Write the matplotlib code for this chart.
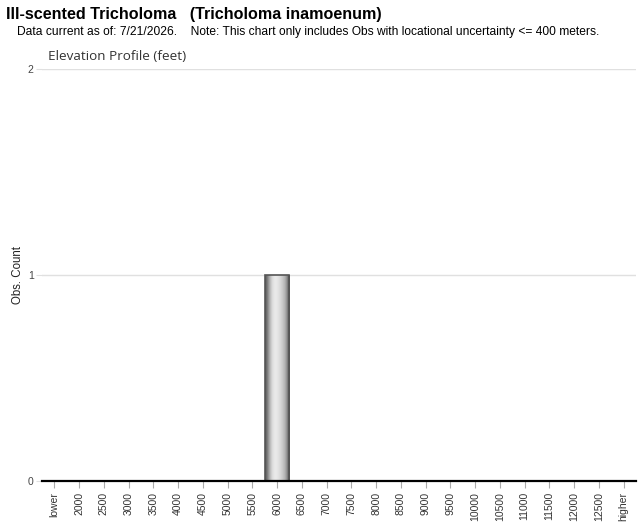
import matplotlib
matplotlib.use("Agg")
import matplotlib.pyplot as plt
import numpy as np

categories = ["lower", "2000", "2500", "3000", "3500", "4000", "4500", "5000", "5500",
              "6000", "6500", "7000", "7500", "8000", "8500", "9000", "9500", "10000",
              "10500", "11000", "11500", "12000", "12500", "higher"]
counts = [0, 0, 0, 0, 0, 0, 0, 0, 0, 1, 0, 0, 0, 0, 0, 0, 0, 0, 0, 0, 0, 0, 0, 0]
yticks = [0, 1, 2]

fig = plt.figure(figsize=(6.4, 5.23), dpi=100)
ax = fig.add_axes([42/640, 1-481/523, 594/640, (481-69)/523])

x = np.arange(len(categories))
bars = ax.bar(x, counts, width=0.98, color="none", edgecolor="#555555", linewidth=1.2, zorder=3)

# cylinder-like gradient fill
grad = np.array([0.35, 0.45, 0.6, 0.75, 0.85, 0.9, 0.92, 0.9, 0.87, 0.83, 0.78, 0.72, 0.62, 0.45, 0.3])
grad_img = np.interp(np.linspace(0, len(grad)-1, 60), np.arange(len(grad)), grad)[None, :]
for b in bars:
    h = b.get_height()
    if h <= 0:
        continue
    im = ax.imshow(grad_img, cmap="gray", vmin=0, vmax=1, aspect="auto",
                   extent=(b.get_x(), b.get_x() + b.get_width(), 0, h), zorder=2,
                   interpolation="bilinear")
    im.set_clip_path(b)

ax.set_xlim(-0.5, len(categories) - 0.5)
ax.set_ylim(0, 2)
ax.set_yticks(yticks)
ax.set_yticklabels([str(v) for v in yticks])
ax.set_xticks(x)
ax.set_xticklabels(categories, rotation=90, fontsize=7.5, color="#333333", family="Liberation Sans")
for lab in ax.get_yticklabels():
    lab.set_fontsize(7.5)
    lab.set_color("#444444")
    lab.set_family("Liberation Sans")

ax.grid(axis="y", color="#e0e0e0", linewidth=1, zorder=0)
ax.set_axisbelow(True)
for s in ["top", "right", "left"]:
    ax.spines[s].set_visible(False)
ax.spines["bottom"].set_color("black")
ax.spines["bottom"].set_linewidth(1.6)
ax.spines["bottom"].set_zorder(4)
ax.tick_params(axis="x", length=5, color="#aaaaaa", pad=3)
ax.tick_params(axis="y", length=4, color="#e0e0e0", pad=2)

ax.set_ylabel("Obs. Count", fontsize=8.3, color="#222222", family="Liberation Sans")
ax.yaxis.set_label_coords(-18/594, 0.5)

fig.text(6/640, 1-15/523, "Ill-scented Tricholoma   (Tricholoma inamoenum)", fontsize=11.6,
         fontweight="bold", family="Liberation Sans", va="center", ha="left", color="black")
fig.text(17/640, 1-32/523, "Data current as of: 7/21/2026.    Note: This chart only includes Obs with locational uncertainty <= 400 meters.",
         fontsize=8.65, family="Liberation Sans", va="center", ha="left", color="black")
fig.text(48/640, 1-57/523, "Elevation Profile (feet)", fontsize=9.7, family="Open Sans",
         va="center", ha="left", color="#333333")

fig.savefig("out.png", dpi=100)
